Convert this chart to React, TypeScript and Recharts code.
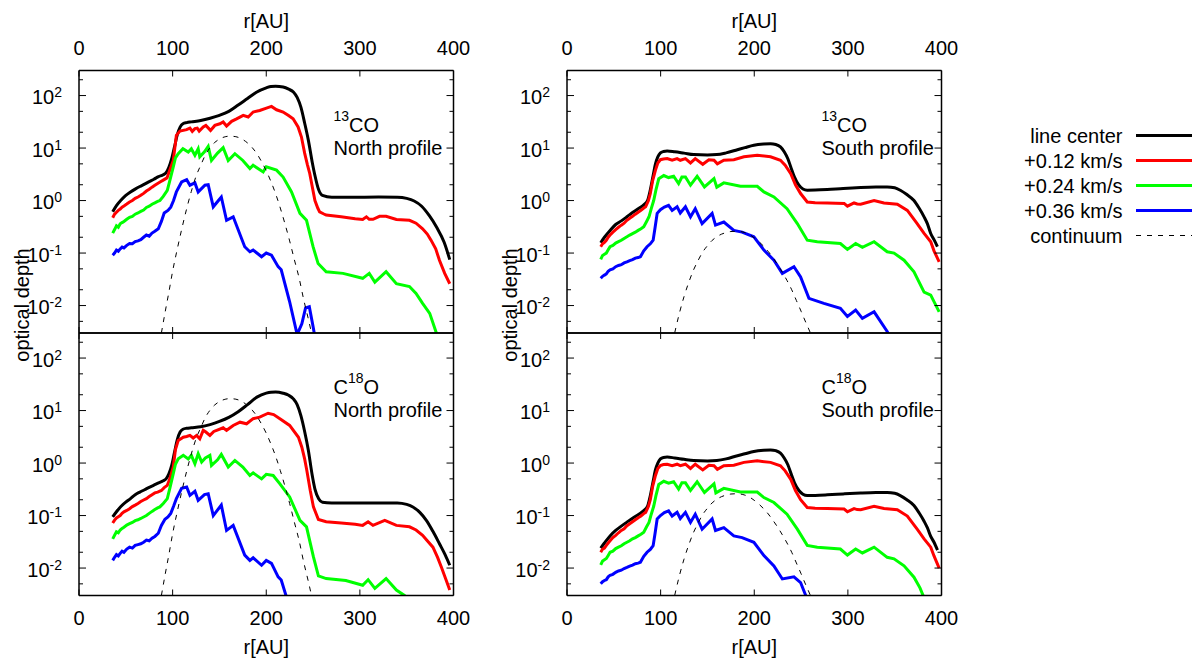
import { LineChart, Line, XAxis, YAxis, Legend, Customized } from 'recharts'

type Pts = [number, number][]

const FONT = "'Liberation Sans', Arial, Helvetica, sans-serif"

// axis ticks
const rTicks = [0, 100, 200, 300, 400]
const tauTicks = [0.005, 0.01, 0.02, 0.05, 0.1, 0.2, 0.5, 1, 2, 5, 10, 20, 50, 100, 200]
const tauMajor = [0.01, 0.1, 1, 10, 100]

// 13CO, North profile  [r (AU), optical depth]
const north13Center: Pts = [[36,0.61],[40,0.8],[45,1.02],[50,1.25],[55,1.45],[60,1.65],[65,1.85],[70,2.05],[75,2.3],[80,2.55],[85,2.85],[90,3.1],[93,3.4],[96,4.3],[99,6.3],[102,10.5],[105,18],[108,25],[111,29],[115,30.5],[120,31.5],[130,33.5],[140,37],[150,42],[160,50],[170,66],[180,88],[190,117],[200,140],[205,149],[210,150],[218,145],[224,132],[229,117],[233,92],[237,60],[241,30],[245,14],[249,5.5],[252,3.0],[256,1.6],[260,1.25],[270,1.15],[290,1.15],[320,1.17],[340,1.16],[350,1.1],[358,0.98],[366,0.78],[374,0.52],[382,0.31],[390,0.16],[396,0.075]]
const north13V12: Pts = [[36,0.47],[38,0.55],[40,0.6],[42,0.65],[44,0.69],[46,0.75],[48,0.79],[51,0.86],[54,0.94],[57,1.0],[60,1.1],[63,1.17],[66,1.26],[69,1.37],[72,1.52],[75,1.64],[78,1.8],[81,1.96],[84,2.12],[87,2.28],[90,2.45],[94,2.7],[97,3.8],[100.7,5.8],[104,17.5],[107.8,21],[114.9,22.4],[118.5,24],[121,20.8],[123.8,23.4],[126.3,24],[128.4,21],[132.7,25.2],[135.5,27],[140.5,21.7],[145.1,27],[150.5,29],[154,31.4],[157.6,26.3],[163,32.3],[168.3,36],[175.4,42],[180.7,39],[186,48.6],[193,52],[200.2,57.6],[205.6,62],[211,53.6],[218,48.6],[223.4,42],[228.7,36],[234,25.2],[237.6,16.2],[241,8],[244,4.8],[246.5,3.26],[249,1.9],[252,1.0],[255,0.72],[257,0.61],[261,0.56],[264,0.53],[280,0.49],[295,0.45],[303,0.435],[307,0.49],[310,0.44],[314,0.44],[321,0.5],[328,0.5],[339,0.435],[353,0.42],[360,0.37],[367,0.29],[372,0.23],[376,0.176],[381,0.12],[385,0.073],[390.6,0.041],[396,0.026]]
const north13V24: Pts = [[36,0.24],[38,0.28],[40,0.33],[42,0.31],[44,0.36],[46,0.38],[48,0.4],[51,0.44],[54,0.48],[57,0.5],[60,0.55],[63,0.58],[66,0.62],[69,0.66],[72,0.74],[75,0.78],[78,0.85],[81,0.9],[84,0.96],[86.4,1.0],[90,1.2],[94.3,1.57],[97,2.4],[100.7,4.4],[103,6.5],[106,7.8],[111,9.7],[116.7,8.4],[120,9.7],[123.8,7.3],[127.3,9.7],[129,6.8],[134,8.5],[138,10.8],[141.5,5.8],[148,8],[154,10.2],[159.4,5.8],[166.5,7.8],[175,5.8],[182.5,4.06],[186,4.7],[196.7,3.5],[200,4.4],[211,3.8],[218,2.8],[227,1.46],[236,0.57],[243,0.42],[250,0.132],[255.4,0.063],[264,0.044],[282,0.041],[303,0.033],[310,0.041],[316,0.028],[328,0.044],[339,0.026],[353,0.023],[360,0.017],[367,0.011],[374.6,0.0071],[381.7,0.003],[385,0.002]]
const north13V36: Pts = [[36,0.091],[38,0.1],[40,0.114],[42,0.108],[44,0.12],[46,0.13],[48,0.125],[51,0.14],[54,0.152],[57,0.15],[60,0.165],[63,0.17],[66,0.18],[69,0.2],[72,0.22],[75,0.21],[78,0.24],[81,0.26],[84.7,0.29],[88,0.4],[91,0.58],[95,0.65],[98,0.75],[101,1.0],[104,1.46],[109.6,2.26],[115,2.5],[118.5,1.96],[123.8,2.17],[127.3,1.46],[134.5,1.96],[138,2.0],[143.4,0.76],[152,1.17],[157.6,0.42],[164.7,0.49],[177,0.132],[182.5,0.106],[186,0.114],[195,0.085],[200,0.1],[205.6,0.091],[212.7,0.055],[216,0.048],[225,0.0118],[233,0.0028],[238,0.0045],[242,0.009],[246,0.0095],[250,0.004],[253,0.002]]

// 13CO, South profile
const south13Center: Pts = [[36,0.157],[40,0.2],[46,0.27],[52,0.35],[58,0.41],[64,0.49],[70,0.59],[76,0.7],[82,0.83],[86,1.0],[89,1.6],[92,3.0],[94.5,5.0],[97,6.8],[99.8,8.1],[103,8.6],[107,8.8],[115,8.5],[125,8.0],[135.4,7.5],[150,7.4],[160,7.5],[170,8.1],[182,9.3],[190,10.2],[199.6,11.3],[210,11.9],[217.4,12.1],[223,11.7],[228,10.5],[232,8.5],[236,6.2],[239,4.37],[243,2.8],[247.7,1.96],[252,1.66],[256.6,1.57],[265,1.58],[278,1.62],[295,1.7],[313.7,1.77],[330,1.81],[342,1.82],[350,1.75],[356,1.57],[363,1.3],[370.6,1.0],[376,0.72],[381.4,0.49],[385,0.36],[388.5,0.236],[392,0.18],[395.7,0.132]]
const south13V12: Pts = [[36,0.132],[38,0.15],[40,0.16],[42,0.175],[44,0.2],[46,0.22],[49,0.25],[52,0.28],[55,0.31],[58,0.34],[61,0.37],[64,0.42],[67,0.46],[70,0.5],[73,0.55],[76,0.6],[79,0.65],[82,0.72],[84,0.76],[87,1.0],[89,1.36],[91.5,2.4],[94.5,3.8],[97,5.2],[99.8,6.0],[103,6.2],[107,6.3],[112.3,5.85],[117.6,6.3],[121,5.85],[126.5,6.3],[131.9,5.2],[137,6.3],[145,4.9],[151.5,6.0],[157,5.85],[160.6,5.0],[167.5,5.85],[178.2,6.0],[189,6.8],[203.2,7.3],[217.4,6.8],[228,5.85],[233,4.7],[239,3.26],[244,2.0],[249.5,1.36],[256.6,0.94],[265,0.91],[278,0.9],[296,0.88],[299.5,0.78],[306.6,0.9],[310,0.86],[313.7,0.85],[328,1.0],[338.6,0.9],[352.8,0.85],[363.5,0.65],[374,0.365],[381.4,0.236],[388.5,0.164],[392,0.11],[397.5,0.068]]
const south13V24: Pts = [[36,0.076],[38,0.09],[40,0.095],[42,0.1],[44,0.115],[46,0.132],[49,0.14],[52,0.155],[55,0.165],[58,0.175],[61,0.19],[64,0.204],[67,0.22],[70,0.235],[73,0.25],[76,0.27],[79,0.29],[82,0.316],[85,0.4],[87.6,0.49],[90,0.7],[92.6,1.0],[95,1.6],[98,2.6],[103.4,3.0],[108.5,2.74],[113.9,2.9],[119.2,2.1],[122.7,2.8],[126.5,2.8],[131.9,1.96],[139,2.9],[146.8,1.82],[157,2.62],[160,1.8],[167.5,2.17],[185.3,1.87],[203.2,1.87],[210.3,1.46],[221,1.17],[235,0.7],[246,0.365],[256.6,0.176],[267.3,0.164],[292,0.152],[299.5,0.117],[308.3,0.152],[315.5,0.128],[328,0.164],[342,0.106],[349.3,0.1],[360,0.073],[370.6,0.044],[381.4,0.018],[388.5,0.0158],[397.5,0.0076]]
const south13V36: Pts = [[36,0.033],[38,0.036],[40,0.038],[42,0.04],[44,0.045],[46,0.048],[49,0.05],[52,0.055],[55,0.058],[58,0.06],[61,0.065],[64,0.068],[67,0.072],[70,0.075],[73,0.08],[76,0.082],[78.4,0.085],[82,0.11],[85.5,0.132],[89,0.15],[92,0.176],[94,0.3],[96.3,0.57],[99.8,0.67],[104,0.75],[108.5,0.81],[112.3,0.65],[117.6,0.76],[121,0.58],[126.5,0.76],[131.9,0.49],[137,0.7],[144.3,0.365],[155,0.57],[158.6,0.34],[167.5,0.39],[178.2,0.27],[187,0.25],[199.6,0.204],[210.3,0.114],[221,0.073],[230,0.041],[242.4,0.055],[249.5,0.035],[258.4,0.0137],[274.4,0.011],[292,0.0089],[299.5,0.0062],[308.3,0.0082],[315.5,0.0057],[328,0.0076],[342,0.0032],[346,0.0024]]

// C18O, North profile
const north18Center: Pts = [[36,0.094],[40,0.118],[45,0.15],[50,0.18],[55,0.21],[60,0.25],[65,0.28],[70,0.31],[75,0.345],[80,0.38],[85,0.42],[90,0.46],[93,0.5],[96,0.62],[99,0.9],[102,1.6],[105,2.8],[108,3.9],[111,4.4],[115,4.6],[120,4.7],[130,4.9],[140,5.4],[150,6.2],[160,7.4],[170,9.5],[180,13],[190,18],[200,21.5],[205,22.4],[210,22.6],[218,21.4],[224,19.5],[229,16.7],[233,13],[237,8],[241,4],[245,1.74],[249,0.6],[252,0.32],[256,0.21],[260,0.18],[270,0.174],[290,0.173],[320,0.174],[340,0.174],[350,0.163],[356.6,0.146],[364,0.115],[371,0.081],[378,0.05],[385,0.029],[391,0.018],[396,0.0113]]
const north18V12: Pts = [[36,0.072],[38,0.082],[40,0.09],[42,0.095],[44,0.1],[46,0.11],[48,0.118],[51,0.125],[54,0.135],[57,0.148],[60,0.158],[63,0.17],[66,0.185],[69,0.198],[72,0.21],[75,0.23],[78,0.25],[81,0.27],[84,0.28],[88,0.3],[91,0.34],[94.3,0.376],[97,0.5],[100.7,0.84],[103,1.8],[106,2.7],[111.4,3.1],[115,3.2],[118.5,3.36],[122,3.0],[125.6,3.36],[129,2.9],[132.7,4.2],[135.5,3.9],[139.8,3.36],[144,4.0],[147,4.2],[154,4.7],[157.6,4.2],[164.7,5.2],[172,6.0],[179,5.6],[186,7.0],[193,7.5],[202,8.9],[207.9,8.4],[214.6,7.0],[225,5.2],[234.4,3.1],[238,2.0],[241,1.2],[243.3,0.73],[247,0.3],[250.4,0.146],[255.7,0.084],[264,0.076],[280,0.072],[295,0.068],[303,0.065],[308.8,0.076],[314,0.065],[326.6,0.081],[339,0.065],[353,0.061],[360,0.053],[367,0.042],[372,0.033],[378,0.025],[383,0.016],[387,0.0105],[392,0.006],[396,0.0038]]
const north18V24: Pts = [[36,0.036],[38,0.042],[40,0.049],[42,0.047],[44,0.053],[46,0.057],[48,0.06],[51,0.066],[54,0.07],[57,0.074],[60,0.08],[63,0.083],[66,0.088],[69,0.094],[72,0.1],[75,0.11],[78,0.12],[81,0.13],[84,0.14],[86.4,0.146],[90,0.17],[94.3,0.21],[97,0.33],[100.7,0.63],[103,0.95],[106,1.2],[111.4,1.4],[116.7,1.2],[120,1.4],[123.8,0.97],[127.3,1.5],[131,1.05],[135,1.25],[139.8,1.4],[141.5,0.9],[148,1.15],[152,1.46],[159.4,0.84],[166.5,1.12],[175,0.84],[182.5,0.58],[186,0.65],[195,0.5],[200,0.61],[207.4,0.58],[214.6,0.4],[225,0.226],[236,0.081],[243,0.061],[250.4,0.0163],[255.7,0.0071],[264,0.0063],[285,0.0058],[303,0.0047],[308.8,0.006],[316,0.0041],[328,0.0063],[339,0.0038],[347.6,0.003],[352,0.0025]]
const north18V36: Pts = [[36,0.014],[38,0.016],[40,0.018],[42,0.017],[44,0.019],[46,0.021],[48,0.02],[51,0.023],[54,0.025],[57,0.024],[60,0.027],[63,0.028],[66,0.029],[69,0.031],[72,0.034],[75,0.033],[78,0.037],[81,0.04],[84.7,0.046],[88,0.065],[91.8,0.085],[95,0.094],[98,0.11],[101,0.15],[104,0.21],[109.6,0.33],[115,0.35],[118.5,0.243],[123.8,0.29],[127.3,0.195],[134,0.25],[138,0.26],[143.4,0.1],[152,0.158],[157.6,0.052],[164.7,0.065],[177,0.0176],[182.5,0.014],[186,0.0157],[195,0.0113],[200,0.014],[205.6,0.0123],[212.7,0.0068],[216,0.0059],[221.6,0.0028]]

// C18O, South profile
const south18Center: Pts = [[36,0.024],[40,0.03],[46,0.041],[52,0.052],[58,0.063],[64,0.075],[70,0.089],[76,0.104],[82,0.124],[86,0.15],[89,0.24],[92,0.45],[94.5,0.75],[97,1.0],[99.8,1.2],[103,1.28],[107,1.3],[115,1.25],[125,1.18],[135.4,1.12],[150,1.1],[160,1.12],[170,1.2],[182,1.38],[190,1.5],[199.6,1.66],[210,1.75],[217.4,1.78],[223,1.72],[228,1.55],[232,1.25],[236,0.92],[239,0.65],[243,0.42],[247.7,0.3],[252,0.255],[256.6,0.24],[265,0.242],[278,0.248],[295,0.258],[313.7,0.268],[330,0.274],[342,0.275],[350,0.265],[356,0.24],[363,0.2],[370.6,0.155],[376,0.113],[381.4,0.078],[385,0.058],[388.5,0.04],[392,0.031],[395.7,0.022]]
const south18V12: Pts = [[36,0.02],[38,0.023],[40,0.024],[42,0.027],[44,0.03],[46,0.033],[49,0.038],[52,0.042],[55,0.047],[58,0.052],[61,0.056],[64,0.064],[67,0.07],[70,0.076],[73,0.083],[76,0.091],[79,0.098],[82,0.109],[84,0.115],[87,0.15],[89,0.2],[91.5,0.36],[94.5,0.58],[97,0.79],[99.8,0.9],[103,0.94],[107,0.95],[112.3,0.89],[117.6,0.95],[121,0.89],[126.5,0.95],[131.9,0.79],[137,0.95],[145,0.74],[151.5,0.91],[157,0.89],[160.6,0.76],[167.5,0.89],[178.2,0.91],[189,1.03],[203.2,1.1],[217.4,1.03],[228,0.89],[233,0.71],[239,0.49],[244,0.3],[249.5,0.2],[256.6,0.142],[265,0.138],[278,0.136],[296,0.133],[299.5,0.118],[306.6,0.136],[310,0.13],[313.7,0.129],[328,0.15],[338.6,0.136],[352.8,0.129],[363.5,0.098],[374,0.055],[381.4,0.036],[388.5,0.025],[392,0.017],[397.5,0.01]]
const south18V24: Pts = [[36,0.0115],[38,0.0136],[40,0.0144],[42,0.0152],[44,0.0174],[46,0.02],[49,0.021],[52,0.0235],[55,0.025],[58,0.0265],[61,0.029],[64,0.031],[67,0.033],[70,0.036],[73,0.038],[76,0.041],[79,0.044],[82,0.048],[85,0.061],[87.6,0.074],[90,0.106],[92.6,0.15],[95,0.24],[98,0.39],[103.4,0.45],[108.5,0.415],[113.9,0.44],[119.2,0.32],[122.7,0.42],[126.5,0.42],[131.9,0.3],[139,0.44],[146.8,0.275],[157,0.4],[159,0.27],[167.5,0.33],[185.3,0.28],[203.2,0.28],[210.3,0.22],[221,0.177],[235,0.106],[246,0.055],[256.6,0.027],[267.3,0.025],[292,0.023],[299.5,0.0177],[308.3,0.023],[315.5,0.0194],[328,0.025],[342,0.016],[349.3,0.015],[360,0.011],[370.6,0.0067],[377,0.0042],[381.4,0.0027],[384,0.0022]]
const south18V36: Pts = [[36,0.005],[38,0.0055],[40,0.0058],[42,0.006],[44,0.0068],[46,0.0073],[49,0.0076],[52,0.0083],[55,0.0088],[58,0.0091],[61,0.0098],[64,0.0103],[67,0.0109],[70,0.0114],[73,0.0121],[76,0.0124],[78.4,0.0129],[82,0.0167],[85.5,0.02],[89,0.0227],[92,0.0267],[94,0.045],[96.3,0.086],[99.8,0.1],[104,0.114],[108.5,0.123],[112.3,0.098],[117.6,0.115],[121,0.088],[126.5,0.115],[131.9,0.074],[137,0.106],[144.3,0.055],[155,0.086],[158.6,0.052],[167.5,0.059],[178.2,0.041],[187,0.038],[199.6,0.031],[210.3,0.0173],[221,0.011],[230,0.0062],[242.4,0.0068],[249.5,0.0053],[255,0.003],[258.4,0.0021]]

// dust continuum (same for both molecules)
const northCont: Pts = [[88,0.003],[92,0.0075],[96,0.018],[100,0.045],[105,0.12],[110,0.3],[115,0.7],[120,1.5],[125,2.9],[130,4.7],[135,7.4],[140,10.2],[145,12.8],[150,14.8],[155,16.2],[160,16.8],[165,16.7],[170,16.0],[175,14.5],[180,12.5],[185,10.2],[190,7.8],[195,5.5],[200,3.7],[205,2.3],[210,1.35],[215,0.72],[220,0.36],[225,0.17],[230,0.075],[235,0.034],[240,0.013],[245,0.0055],[250,0.0022]]
const southCont: Pts = [[115,0.003],[120,0.0071],[125,0.0148],[130,0.0275],[135,0.047],[140,0.072],[145,0.105],[150,0.138],[155,0.174],[160,0.204],[165,0.229],[170,0.245],[175,0.257],[180,0.26],[185,0.257],[190,0.245],[195,0.224],[200,0.195],[205,0.165],[210,0.135],[215,0.107],[220,0.081],[225,0.06],[230,0.043],[235,0.03],[240,0.02],[245,0.0125],[250,0.0078],[255,0.0048],[260,0.003],[263,0.0022]]

const seriesMeta = [
  { name: 'line center', color: '#000000' },
  { name: '+0.12 km/s', color: '#ff0000' },
  { name: '+0.24 km/s', color: '#00ff00' },
  { name: '+0.36 km/s', color: '#0000ff' },
]
const contMeta = { name: 'continuum', color: '#000000', dash: '5 6' }

// layout
const PLOT_W = 374.5
const PLOT_H = 262.5
const COL_X = [79, 566.5]
const ROW_Y = [70.5, 333]
const AX_W = 79
const RIGHT_W = 30

const toRows = (pts: Pts) => pts.map(([r, tau]) => ({ r, tau }))
const frame = { stroke: '#000', strokeWidth: 1.5 }

function XTick(props: any) {
  const { x, y, payload, side, showLabel } = props
  const dir = side === 'top' ? 1 : -1
  return (
    <g>
      <line x1={x} x2={x} y1={y} y2={y + dir * 6} stroke="#000" strokeWidth={1} />
      {showLabel && (
        <text x={x} y={side === 'top' ? y - 15.5 : y + 29.5} textAnchor="middle" fontSize={20} fontFamily={FONT} fill="#000">
          {payload.value}
        </text>
      )}
    </g>
  )
}

function YTick(props: any) {
  const { x, y, payload, side } = props
  const v = payload.value
  const major = tauMajor.includes(v)
  const dir = side === 'left' ? 1 : -1
  const exp = Math.round(Math.log10(v))
  return (
    <g>
      <line x1={x} x2={x + dir * (major ? 7 : 4)} y1={y} y2={y} stroke="#000" strokeWidth={1} />
      {side === 'left' && major && (
        <text x={x - 17} y={y + 8.5} textAnchor="end" fontSize={20} fontFamily={FONT} fill="#000">
          10<tspan dy={-6.6} fontSize={14}>{exp}</tspan>
        </text>
      )}
    </g>
  )
}

function AxisTitle(props: any) {
  const vb = props.viewBox || { x: 0, y: 0, width: 0 }
  return (
    <text x={vb.x + vb.width / 2} y={vb.y + props.dy} textAnchor="middle" fontSize={20} fontFamily={FONT} fill="#000">
      r[AU]
    </text>
  )
}

function YTitle(props: any) {
  const vb = props.viewBox || { x: 0, y: 0, width: AX_W }
  const cx = vb.x + vb.width - 57
  const cy = vb.y + 234.5
  return (
    <text x={cx} y={cy} transform={`rotate(-90 ${cx} ${cy})`} textAnchor="middle" dominantBaseline="central" fontSize={20} fontFamily={FONT} fill="#000">
      optical depth
    </text>
  )
}

function Annotation({ x, y, mol, side }: any) {
  return (
    <g fontFamily={FONT} fill="#000">
      <text x={x} y={y} fontSize={20}>
        {mol === '13CO' ? (
          <>
            <tspan fontSize={14} dy={-11}>13</tspan>
            <tspan fontSize={20} dy={11}>CO</tspan>
          </>
        ) : (
          <>
            <tspan>C</tspan>
            <tspan fontSize={14} dy={-11}>18</tspan>
            <tspan fontSize={20} dy={11}>O</tspan>
          </>
        )}
      </text>
      <text x={x} y={y + 23} fontSize={20}>{side} profile</text>
    </g>
  )
}

function LegendBox() {
  const rows = [...seriesMeta, contMeta]
  return (
    <svg width={180} height={125} style={{ display: 'block' }}>
      {rows.map((s: any, i) => {
        const cy = 12.5 + 25 * i
        return (
          <g key={s.name}>
            <text x={102.5} y={cy + 7} textAnchor="end" fontSize={20} fontFamily={FONT} fill="#000">{s.name}</text>
            <line x1={116} x2={172} y1={cy} y2={cy} stroke={s.color} strokeWidth={s.dash ? 1 : 3} strokeDasharray={s.dash} />
          </g>
        )
      })}
    </svg>
  )
}

function Panel({ col, row, mol, side, lines, cont, legend }: any) {
  const plotLeft = COL_X[col]
  const plotTop = ROW_Y[row]
  const isTop = row === 0
  const topH = isTop ? plotTop : 10
  const botH = isTop ? 40 : 662 - (plotTop + PLOT_H)
  const width = AX_W + PLOT_W + RIGHT_W
  const height = topH + PLOT_H + botH
  const chartLeft = plotLeft - AX_W

  return (
    <div style={{ position: 'absolute', left: chartLeft, top: plotTop - topH }}>
      <LineChart width={width} height={height} margin={{ top: 0, right: 0, bottom: 0, left: 0 }}>
        <XAxis
          xAxisId="t" orientation="top" type="number" dataKey="r" domain={[0, 400]} ticks={rTicks} interval={0}
          height={topH} tickSize={0} tickMargin={0} tickLine={false} axisLine={frame}
          tick={(p: any) => <XTick {...p} side="top" showLabel={isTop} />}
          label={isTop ? <AxisTitle dy={28} /> : undefined}
        />
        <XAxis
          xAxisId="b" orientation="bottom" type="number" dataKey="r" domain={[0, 400]} ticks={rTicks} interval={0}
          height={botH} tickSize={0} tickMargin={0} tickLine={false} axisLine={frame}
          tick={(p: any) => <XTick {...p} side="bottom" showLabel={!isTop} />}
          label={!isTop ? <AxisTitle dy={58.5} /> : undefined}
        />
        <YAxis
          yAxisId="l" orientation="left" type="number" scale="log" domain={[0.003, 300]} allowDataOverflow
          ticks={tauTicks} interval={0} width={AX_W} tickSize={0} tickMargin={0} tickLine={false} axisLine={frame}
          tick={(p: any) => <YTick {...p} side="left" />}
          label={isTop ? <YTitle /> : undefined}
        />
        <YAxis
          yAxisId="r" orientation="right" type="number" scale="log" domain={[0.003, 300]} allowDataOverflow
          ticks={tauTicks} interval={0} width={RIGHT_W} tickSize={0} tickMargin={0} tickLine={false} axisLine={frame}
          tick={(p: any) => <YTick {...p} side="right" />}
        />
        {lines.map((pts: Pts, i: number) => (
          <Line
            key={seriesMeta[i].name} name={seriesMeta[i].name} xAxisId="b" yAxisId="l"
            data={toRows(pts)} dataKey="tau" type={i === 0 ? 'monotone' : 'linear'}
            stroke={seriesMeta[i].color} strokeWidth={3} dot={false} activeDot={false} isAnimationActive={false}
          />
        ))}
        {/* continuum is bound to the mirror axes (same domains), so those axes get ticks too */}
        <Line
          name={contMeta.name} xAxisId="t" yAxisId="r" data={toRows(cont)} dataKey="tau" type="monotone"
          stroke={contMeta.color} strokeWidth={1} strokeDasharray={contMeta.dash} dot={false} activeDot={false} isAnimationActive={false}
        />
        <Customized component={() => <Annotation x={AX_W + 254.5} y={topH + 61} mol={mol} side={side} />} />
        {legend && (
          <Legend
            layout="horizontal" align="center" verticalAlign="middle"
            wrapperStyle={{ left: 1020 - chartLeft, top: 122.5, width: 180, height: 125 }}
            content={() => <LegendBox />}
          />
        )}
      </LineChart>
    </div>
  )
}

export default function App() {
  return (
    <div style={{ position: 'absolute', left: 0, top: 0, width: 1197, height: 662, background: '#fff', fontFamily: FONT }}>
      <Panel col={0} row={0} mol="13CO" side="North" lines={[north13Center, north13V12, north13V24, north13V36]} cont={northCont} />
      <Panel col={1} row={0} mol="13CO" side="South" lines={[south13Center, south13V12, south13V24, south13V36]} cont={southCont} legend />
      <Panel col={0} row={1} mol="C18O" side="North" lines={[north18Center, north18V12, north18V24, north18V36]} cont={northCont} />
      <Panel col={1} row={1} mol="C18O" side="South" lines={[south18Center, south18V12, south18V24, south18V36]} cont={southCont} />
    </div>
  )
}
